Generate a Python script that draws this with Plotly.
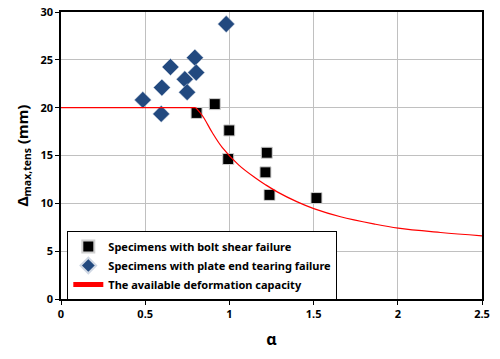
import plotly.graph_objects as go

# Specimens with bolt shear failure
bolt_alpha = [0.805, 0.913, 0.999, 0.993, 1.222, 1.214, 1.238, 1.517]
bolt_delta = [19.45, 20.37, 17.62, 14.63, 15.29, 13.24, 10.88, 10.55]

# Specimens with plate end tearing failure
plate_alpha = [0.486, 0.595, 0.599, 0.650, 0.735, 0.749, 0.795, 0.803, 0.981]
plate_delta = [20.81, 19.35, 22.10, 24.25, 22.97, 21.62, 25.23, 23.67, 28.74]

# Available deformation capacity
plateau_alpha = [0.0, 0.80]
plateau_delta = [20.0, 20.0]
curve_alpha = [0.80, 0.842, 0.898, 0.957, 1.056, 1.155, 1.214, 1.284, 1.403, 1.501,
               1.66, 1.857, 2.002, 2.254, 2.5]
curve_delta = [20.0, 19.1, 17.4, 15.85, 14.0, 12.65, 11.95, 11.2, 10.15, 9.45,
               8.6, 7.85, 7.4, 6.95, 6.6]

x_ticks = [0, 0.5, 1, 1.5, 2, 2.5]
x_ticklabels = ["0", "0.5", "1", "1.5", "2", "2.5"]
y_ticks = [0, 5, 10, 15, 20, 25, 30]

FONT = "Noto Sans"
RED = "#ff0000"

fig = go.Figure()
fig.add_trace(go.Scatter(
    x=bolt_alpha, y=bolt_delta, mode="markers",
    name="<b>Specimens with bolt shear failure</b>",
    marker=dict(symbol="square", size=11, color="black",
                line=dict(color="#d0d0d0", width=1)),
))
fig.add_trace(go.Scatter(
    x=plate_alpha, y=plate_delta, mode="markers",
    name="<b>Specimens with plate end tearing failure</b>",
    marker=dict(symbol="diamond", size=13, color="#22497F",
                line=dict(color="#d0d8e4", width=0.5)),
))
fig.add_trace(go.Scatter(
    x=plateau_alpha, y=plateau_delta, mode="lines",
    name="<b>The available deformation capacity</b>",
    legendgroup="cap",
    line=dict(color=RED, width=1.2),
))
fig.add_trace(go.Scatter(
    x=curve_alpha, y=curve_delta, mode="lines",
    legendgroup="cap", showlegend=False,
    line=dict(color=RED, width=1.2, shape="spline", smoothing=1.0),
))

fig.update_layout(
    width=500, height=359,
    margin=dict(l=61, r=18, t=12, b=60),
    paper_bgcolor="white", plot_bgcolor="white",
    font=dict(family=FONT, color="black", size=11),
    legend=dict(
        x=0.015, y=0.237, xanchor="left", yanchor="top",
        bgcolor="white", bordercolor="black", borderwidth=1,
        font=dict(family=FONT, size=11, color="black"),
        tracegroupgap=0, itemsizing="constant",
    ),
    xaxis=dict(
        range=[0, 2.5], tickvals=x_ticks, ticktext=[f"<b>{t}</b>" for t in x_ticklabels],
        showgrid=True, gridcolor="#c0c0c0", gridwidth=1,
        showline=True, linecolor="black", linewidth=1.5, mirror=True,
        ticks="outside", ticklen=4, tickcolor="black",
        zeroline=False, automargin=False,
        title=dict(text="<b>α</b>", font=dict(family=FONT, size=16), standoff=14),
        tickfont=dict(size=11),
    ),
    yaxis=dict(
        range=[0, 30], tickvals=y_ticks, ticktext=[f"<b>{t}</b>" for t in y_ticks],
        showgrid=True, gridcolor="#c0c0c0", gridwidth=1,
        showline=True, linecolor="black", linewidth=1.5, mirror=True,
        ticks="outside", ticklen=4, tickcolor="black",
        zeroline=False, automargin=False,
        title=dict(text="<b>Δ<sub>max,tens</sub> (mm)</b>", font=dict(family=FONT, size=15), standoff=8),
        tickfont=dict(size=11),
    ),
)

fig.write_html(
    "out.html",
    config={"displayModeBar": False},
    post_script="document.body.style.margin='0';document.body.style.overflow='hidden';",
)
